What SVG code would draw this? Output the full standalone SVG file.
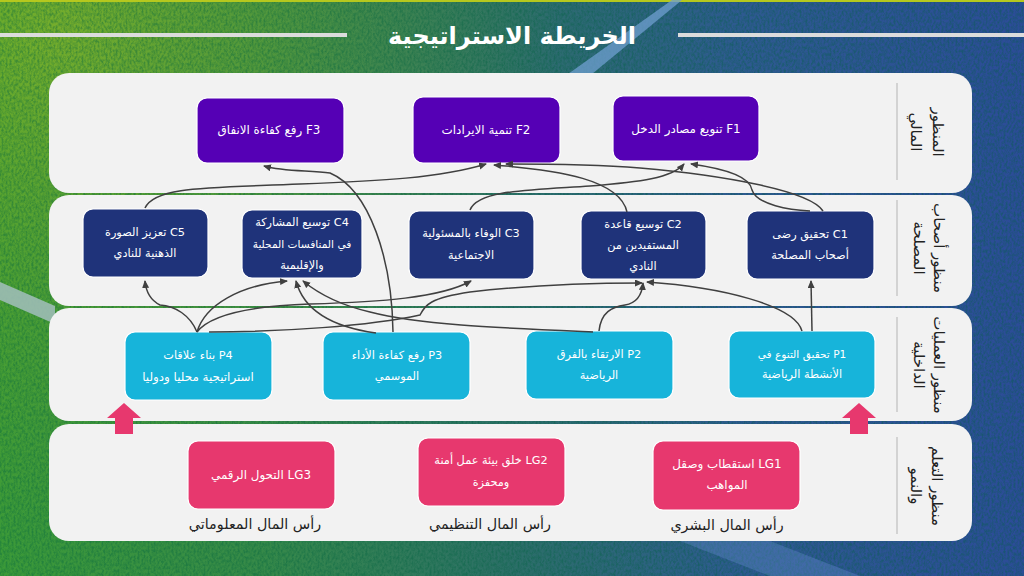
<svg xmlns="http://www.w3.org/2000/svg" width="1024" height="576" viewBox="0 0 1024 576">
<style>
.row{fill:#f2f2f2}
.div{stroke:#bfbfbf;stroke-width:1.2}
.b{stroke:#fff;stroke-width:1.2}
.f{fill:#5500b5}.c{fill:#1f337a}.p{fill:#17b4da}.g{fill:#e7386e}
text{font-family:"DejaVu Sans","Noto Sans",sans-serif;direction:rtl;text-anchor:middle}
.t{fill:#fff;font-size:11.3px}
.s{font-size:10.6px}
.w{font-size:11.9px}
.h{fill:#222;font-size:15px}
.cap{fill:#222;font-size:14.3px}
.conn path{fill:none;stroke:#404040;stroke-width:1.5;marker-end:url(#ah)}
</style>
<defs>
<marker id="ah" markerWidth="8" markerHeight="8" refX="7" refY="3.5" orient="auto" markerUnits="userSpaceOnUse"><path d="M0 0L8 3.5L0 7z" fill="#404040"/></marker>
<linearGradient id="bg" x1="0" y1="0" x2="1" y2="0"><stop offset="0" stop-color="#3c9a38"/><stop offset=".25" stop-color="#368a48"/><stop offset=".5" stop-color="#2c6f68"/><stop offset=".72" stop-color="#2e5a90"/><stop offset="1" stop-color="#2c4c98"/></linearGradient>
<radialGradient id="sun" gradientUnits="userSpaceOnUse" cx="60" cy="30" r="500"><stop offset="0" stop-color="#a6c020" stop-opacity=".55"/><stop offset=".6" stop-color="#80b020" stop-opacity=".2"/><stop offset="1" stop-color="#80b020" stop-opacity="0"/></radialGradient>
<filter id="gr" x="0" y="0" width="100%" height="100%"><feTurbulence type="fractalNoise" baseFrequency=".5 .3" numOctaves="3" seed="4"/><feColorMatrix values="0 0 0 0 0  0 0 0 0 .12  0 0 0 0 .05  2.4 0 0 0 -.85"/></filter>
</defs>
<rect width="1024" height="576" fill="url(#bg)"/>
<rect width="1024" height="576" fill="url(#sun)"/>
<rect width="1024" height="576" filter="url(#gr)" opacity=".4"/>
<rect width="1024" height="2" fill="#b5c81e"/>
<path d="M672 0H682L592 74H568z" fill="#6f9fd0" opacity=".75"/>
<path d="M0 282L55 306V324L0 300z" fill="#9dbdb5" opacity=".9"/>
<path d="M680 541L770 576H860L770 541z" fill="#5f86c8" opacity=".4"/>
<rect x="0" y="33" width="347" height="4" fill="#dcdcdc"/>
<rect x="678" y="33" width="346" height="4" fill="#dcdcdc"/>
<text x="512" y="44" fill="#fff" font-size="24" font-weight="bold">الخريطة الاستراتيجية</text>

<g id="rows">
<rect class="row" x="49" y="73" width="923" height="120" rx="20"/>
<rect class="row" x="49" y="195" width="923" height="111" rx="20"/>
<rect class="row" x="49" y="308" width="923" height="113" rx="20"/>
<rect class="row" x="49" y="424" width="923" height="117" rx="20"/>
<path class="div" d="M897 83V180M897 200V296M897 317V412M897 437V534"/>
<text class="h" transform="translate(933 132) rotate(90)">المنظور</text><text class="h" transform="translate(911 132) rotate(90)">المالي</text>
<text class="h" transform="translate(934 248) rotate(90)">منظور أصحاب</text><text class="h" transform="translate(914 248) rotate(90)">المصلحة</text>
<text class="h" transform="translate(934 365) rotate(90)">منظور العمليات</text><text class="h" transform="translate(914 365) rotate(90)">الداخلية</text>
<text class="h" transform="translate(932 486) rotate(90)">منظور التعلم</text><text class="h" transform="translate(911 486) rotate(90)">والنمو</text>
</g>

<g id="F1"><rect class="b f" x="613" y="96" width="146" height="65" rx="10"/><text class="t w" x="686" y="133">F1 تنويع مصادر الدخل</text></g>
<g id="F2"><rect class="b f" x="413" y="97" width="147" height="66" rx="10"/><text class="t w" x="486" y="134">F2 تنمية الايرادات</text></g>
<g id="F3"><rect class="b f" x="197" y="98" width="147" height="65" rx="10"/><text class="t w" x="269" y="134">F3 رفع كفاءة الانفاق</text></g>

<g id="C1"><rect class="b c" x="747" y="211" width="127" height="68" rx="10"/><text class="t" x="810" y="238">C1 تحقيق رضى</text><text class="t" x="810" y="259">أصحاب المصلحة</text></g>
<g id="C2"><rect class="b c" x="581" y="211" width="125" height="68" rx="10"/><text class="t" x="643" y="228">C2 توسيع قاعدة</text><text class="t" x="643" y="249">المستفيدين من</text><text class="t" x="643" y="270">النادي</text></g>
<g id="C3"><rect class="b c" x="409" y="211" width="125" height="68" rx="10"/><text class="t" x="471" y="237">C3 الوفاء بالمسئولية</text><text class="t" x="471" y="259">الاجتماعية</text></g>
<g id="C4"><rect class="b c" x="242" y="210" width="120" height="68" rx="10"/><text class="t" x="302" y="226">C4 توسيع المشاركة</text><text class="t s" x="302" y="248">في المنافسات المحلية</text><text class="t" x="302" y="269">والإقليمية</text></g>
<g id="C5"><rect class="b c" x="83" y="209" width="125" height="68" rx="10"/><text class="t" x="145" y="236">C5 تعزيز الصورة</text><text class="t" x="145" y="257">الذهنية للنادي</text></g>

<g id="P1"><rect class="b p" x="729" y="331" width="146" height="67" rx="10"/><text class="t s" x="802" y="358">P1 تحقيق التنوع في</text><text class="t" x="802" y="378">الأنشطة الرياضية</text></g>
<g id="P2"><rect class="b p" x="526" y="331" width="147" height="68" rx="10"/><text class="t" x="599" y="358">P2 الارتقاء بالفرق</text><text class="t" x="599" y="379">الرياضية</text></g>
<g id="P3"><rect class="b p" x="323" y="332" width="147" height="68" rx="10"/><text class="t" x="397" y="359">P3 رفع كفاءة الأداء</text><text class="t" x="397" y="380">الموسمي</text></g>
<g id="P4"><rect class="b p" x="125" y="332" width="147" height="68" rx="10"/><text class="t" x="198" y="359">P4 بناء علاقات</text><text class="t w" x="198" y="381">استراتيجية محليا ودوليا</text></g>

<g id="LG1"><rect class="b g" x="653" y="441" width="147" height="69" rx="10"/><text class="t w" x="727" y="468">LG1 استقطاب وصقل</text><text class="t w" x="727" y="489">المواهب</text></g>
<g id="LG2"><rect class="b g" x="418" y="438" width="147" height="68" rx="10"/><text class="t" x="491" y="464">LG2 خلق بيئة عمل أمنة</text><text class="t" x="491" y="486">ومحفزة</text></g>
<g id="LG3"><rect class="b g" x="188" y="441" width="147" height="68" rx="10"/><text class="t w" x="261" y="479">LG3 التحول الرقمي</text></g>
<text class="cap" x="727" y="530">رأس المال البشري</text>
<text class="cap" x="490" y="529">رأس المال التنظيمي</text>
<text class="cap" x="255" y="529">رأس المال المعلوماتي</text>

<g id="pink-arrows" fill="#e7386e">
<path d="M124 403L141 418H133V434H115V418H107z"/>
<path d="M859 403L876 418H868V434H850V418H842z"/>
</g>

<g id="connectors" class="conn">
<path d="M145 208C155 186 210 188 300 184C380 181 440 178 486 164"/>
<path d="M393 332C392 260 370 190 330 173C310 170 285 172 264 166"/>
<path d="M470 210C478 190 530 190 590 186C640 182 672 178 684 164"/>
<path d="M627 212C620 180 560 170 494 165"/>
<path d="M823 211C810 190 720 175 640 168C590 164 540 164 506 164"/>
<path d="M810 211C790 210 757 205 752 190C750 175 720 168 691 164"/>
<path d="M812 331L811 281"/>
<path d="M802 331C795 305 720 287 647 282"/>
<path d="M599 331C601 312 612 307 625 305C637 303 642 295 643 283"/>
<path d="M197 332C210 315 250 306 310 304C380 302 440 298 471 281"/>
<path d="M197 332C190 315 175 306 160 305C150 300 146 292 145 281"/>
<path d="M197 332C205 305 240 285 287 281"/>
<path d="M209 332C280 332 370 326 420 315C425 305 430 298 470 292C530 285 600 283 642 283"/>
<path d="M376 333C340 328 305 315 296 281"/>
<path d="M593 332C500 328 420 325 370 312C340 305 320 295 303 281"/>
</g>
</svg>
